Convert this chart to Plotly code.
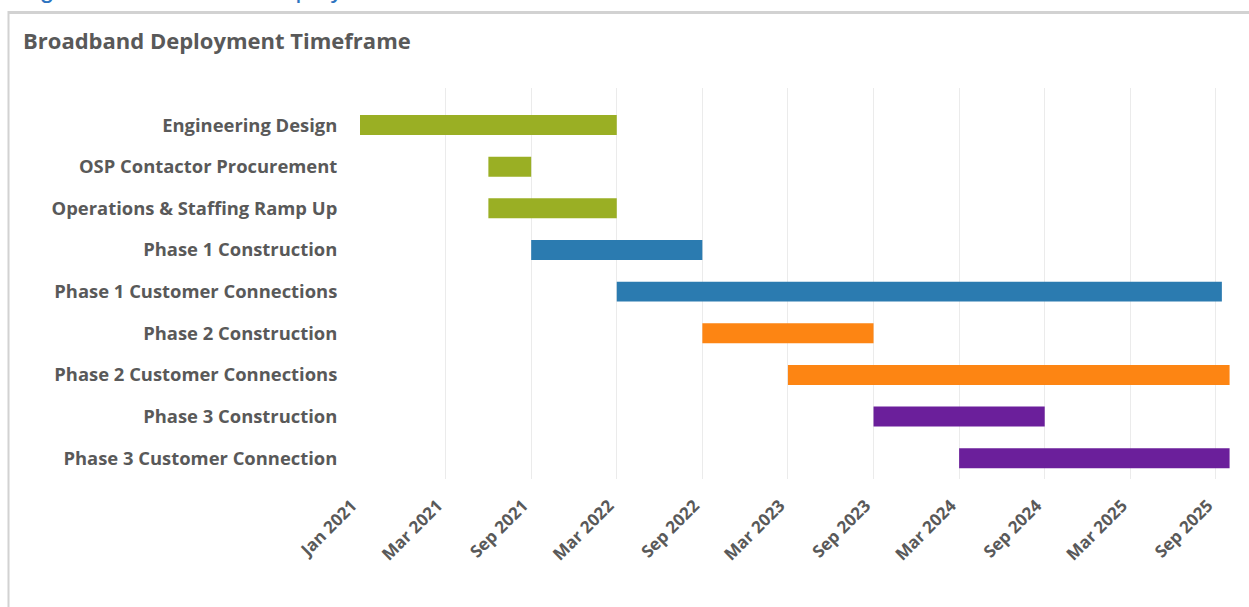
import plotly.graph_objects as go

# ---- data ----
tasks = [
    "Engineering Design",
    "OSP Contactor Procurement",
    "Operations & Staffing Ramp Up",
    "Phase 1 Construction",
    "Phase 1 Customer Connections",
    "Phase 2 Construction",
    "Phase 2 Customer Connections",
    "Phase 3 Construction",
    "Phase 3 Customer Connection",
]
groups = ["Prep", "Prep", "Prep", "Phase 1", "Phase 1", "Phase 2", "Phase 2", "Phase 3", "Phase 3"]
# start / end expressed in tick-interval units of the timeline axis
start = [0.0, 1.5, 1.5, 2.0, 3.0, 4.0, 5.0, 6.0, 7.0]
end = [3.0, 2.0, 3.0, 4.0, 10.07, 6.0, 10.16, 8.0, 10.16]
tick_labels = ["Jan 2021", "Mar 2021", "Sep 2021", "Mar 2022", "Sep 2022", "Mar 2023",
               "Sep 2023", "Mar 2024", "Sep 2024", "Mar 2025", "Sep 2025"]

group_colors = {"Prep": "#9aaf24", "Phase 1": "#2b7bb0", "Phase 2": "#fd8513", "Phase 3": "#6b1f9b"}

W, H = 1249, 607
ML, MR, MT, MB = 360, 16, 88, 128

y_idx = list(range(len(tasks)))
dur = [e - s for s, e in zip(start, end)]

fig = go.Figure()
fig.add_trace(go.Bar(
    y=y_idx, x=dur, base=start, orientation="h",
    marker=dict(color=[group_colors[g] for g in groups], line=dict(width=0)),
    width=0.48, showlegend=False, hoverinfo="skip",
))

label_font = dict(family="Open Sans", size=18.4, color="#595959", weight="bold")


def px(x):
    return (x - ML) / (W - ML - MR)


def py(y):
    return (H - MB - y) / (H - MT - MB)


fig.update_layout(
    width=W, height=H,
    margin=dict(l=ML, r=MR, t=MT, b=MB),
    paper_bgcolor="white", plot_bgcolor="white",
    xaxis=dict(
        range=[0, 10.2], tickmode="array", tickvals=list(range(len(tick_labels))),
        ticktext=tick_labels, tickangle=-45, showgrid=True, gridcolor="#ebebeb",
        gridwidth=1, zeroline=False, showline=False, ticks="outside", ticklen=9,
        tickcolor="rgba(0,0,0,0)", ticklabelshift=-8,
        tickfont=dict(family="Open Sans", size=17, color="#595959", weight="bold"),
    ),
    yaxis=dict(
        range=[8.5, -0.89], tickmode="array", tickvals=y_idx, ticktext=tasks,
        showgrid=False, zeroline=False, showline=False, ticks="outside", ticklen=18,
        tickcolor="rgba(0,0,0,0)", tickfont=label_font,
    ),
    shapes=[
        dict(type="line", xref="paper", yref="paper",
             x0=px(8.5), x1=px(W), y0=py(12.5), y1=py(12.5),
             line=dict(color="#d2d2d2", width=3)),
        dict(type="line", xref="paper", yref="paper",
             x0=px(8.5), x1=px(8.5), y0=py(11), y1=py(H),
             line=dict(color="#d2d2d2", width=2)),
    ],
    annotations=[
        dict(text="Broadband Deployment Timeframe", xref="paper", yref="paper",
             x=px(21), y=py(40), xanchor="left", yanchor="middle", showarrow=False,
             font=dict(family="Open Sans", size=22, color="#595959", weight="bold")),
        dict(text="Figure 8: Broadband Deployment Timeframe", xref="paper", yref="paper",
             x=px(16), y=py(-11), xanchor="left", yanchor="middle", showarrow=False,
             font=dict(family="Liberation Sans", size=26, color="#2e74c0")),
    ],
)

fig.write_html("out.html")
